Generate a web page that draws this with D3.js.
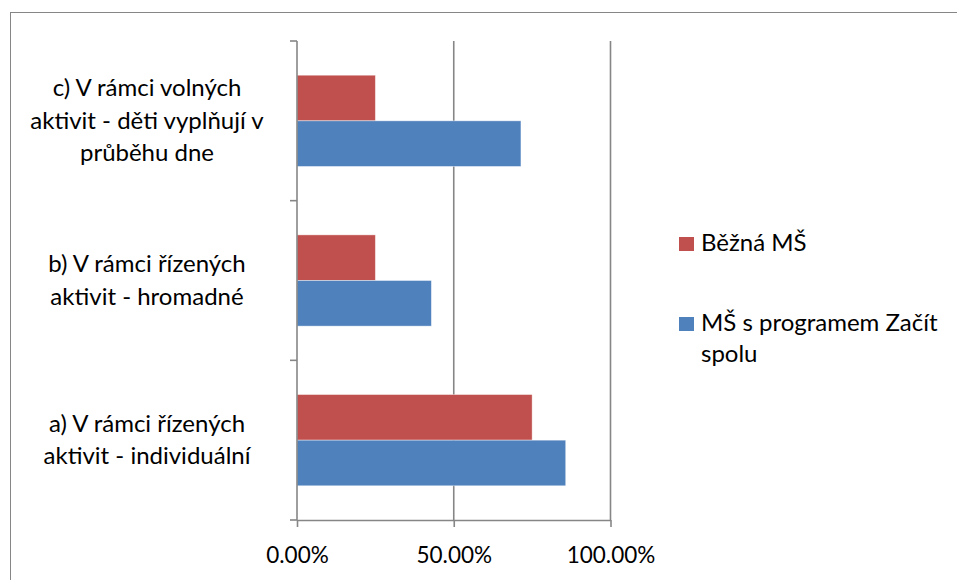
<!DOCTYPE html>
<html>
<head>
<meta charset="utf-8">
<script src="https://cdn.jsdelivr.net/npm/d3@7"></script>
<style>
  html, body { margin: 0; padding: 0; background: #fff; }
  svg { display: block; font-family: Lato, "Open Sans", sans-serif; }
</style>
</head>
<body>
<svg id="chart" width="957" height="580"></svg>
<script>
// ---- data ----
const categories = ["a", "b", "c"]; // bottom to top
const categoryLabels = [
  ["a) V rámci řízených", "aktivit - individuální"],
  ["b) V rámci řízených", "aktivit - hromadné"],
  ["c) V rámci volných", "aktivit - děti vyplňují v", "průběhu dne"]
];
const seriesNames = ["Běžná MŠ", "MŠ s programem Začít spolu"];
const seriesColors = ["#C0504D", "#4F81BD"];
const valuesBezna = [0.75, 0.25, 0.25];
const valuesZacit = [0.8571, 0.4286, 0.7143];
const xTicks = [0, 0.5, 1];

// ---- layout ----
const svg = d3.select("#chart");
const plot = { left: 297, right: 610.5, top: 41, bottom: 520 };
const FS = 24;

// outer frame (only left and top visible)
svg.append("rect")
  .attr("x", 10.5).attr("y", 12.5)
  .attr("width", 1000).attr("height", 1000)
  .attr("fill", "none").attr("stroke", "#868686").attr("stroke-width", 1);

const x = d3.scaleLinear().domain([0, 1]).range([plot.left, plot.right]);
const y = d3.scaleBand().domain(categories.slice().reverse()).range([plot.top, plot.bottom]).paddingInner(0).paddingOuter(0);
const inner = d3.scaleBand().domain([0, 1]).range([0, y.bandwidth()]).paddingInner(0).paddingOuter(0.75);

// gridlines
svg.append("g").selectAll("line").data(xTicks.filter(d => d > 0)).join("line")
  .attr("x1", d => x(d)).attr("x2", d => x(d))
  .attr("y1", plot.top).attr("y2", plot.bottom)
  .attr("stroke", "#868686").attr("stroke-width", 1.6);

// bars
const series = [valuesBezna, valuesZacit];
series.forEach((vals, si) => {
  svg.append("g").selectAll("rect").data(categories).join("rect")
    .attr("x", x(0))
    .attr("y", (c) => y(c) + inner(si))
    .attr("width", (c, i) => x(vals[i]) - x(0))
    .attr("height", inner.bandwidth())
    .attr("fill", seriesColors[si])
    .attr("stroke", "rgba(255,255,255,0.5)")
    .attr("stroke-width", 0.8);
});

// y axis (category) with outward ticks at band boundaries
const yAxisG = svg.append("g");
yAxisG.append("line")
  .attr("x1", plot.left).attr("x2", plot.left)
  .attr("y1", plot.top).attr("y2", plot.bottom)
  .attr("stroke", "#868686").attr("stroke-width", 1.6);
const boundaries = categories.map(c => y(c)).concat([plot.bottom]);
yAxisG.selectAll("line.tick").data(boundaries).join("line")
  .attr("class", "tick")
  .attr("x1", plot.left - 7).attr("x2", plot.left)
  .attr("y1", d => d).attr("y2", d => d)
  .attr("stroke", "#868686").attr("stroke-width", 1.6);

// x axis
const xAxis = d3.axisBottom(x).tickValues(xTicks).tickFormat(d3.format(".2%")).tickSize(7).tickSizeOuter(0);
const xg = svg.append("g").attr("transform", `translate(0,${plot.bottom})`).call(xAxis);
xg.select(".domain").attr("stroke", "#868686").attr("stroke-width", 1.6);
xg.selectAll(".tick line").attr("stroke", "#868686").attr("stroke-width", 1.6);
xg.selectAll(".tick text")
  .attr("font-family", "Lato, sans-serif").attr("font-size", 22.5)
  .attr("fill", "#000").attr("y", 0).attr("dy", "43");

// category labels
const lineH = 32.5;
const labelG = svg.append("g");
categories.forEach((c, i) => {
  const lines = categoryLabels[i];
  const cy = y(c) + y.bandwidth() / 2;
  const t = labelG.append("text")
    .attr("x", 147).attr("text-anchor", "middle")
    .attr("font-size", FS).attr("fill", "#000");
  lines.forEach((ln, k) => {
    t.append("tspan").attr("x", 147)
      .attr("y", cy + (k - (lines.length - 1) / 2) * lineH + 8)
      .text(ln);
  });
});

// legend
const legend = svg.append("g");
const legendItems = [
  { name: ["Běžná MŠ"], color: seriesColors[0], y: 251 },
  { name: ["MŠ s programem Začít", "spolu"], color: seriesColors[1], y: 331 }
];
legendItems.forEach(item => {
  legend.append("rect")
    .attr("x", 679).attr("y", item.y - 14)
    .attr("width", 15).attr("height", 14)
    .attr("fill", item.color);
  const t = legend.append("text").attr("font-size", FS).attr("fill", "#000");
  item.name.forEach((ln, k) => {
    t.append("tspan").attr("x", 701).attr("y", item.y + k * 31).text(ln);
  });
});
</script>
</body>
</html>
